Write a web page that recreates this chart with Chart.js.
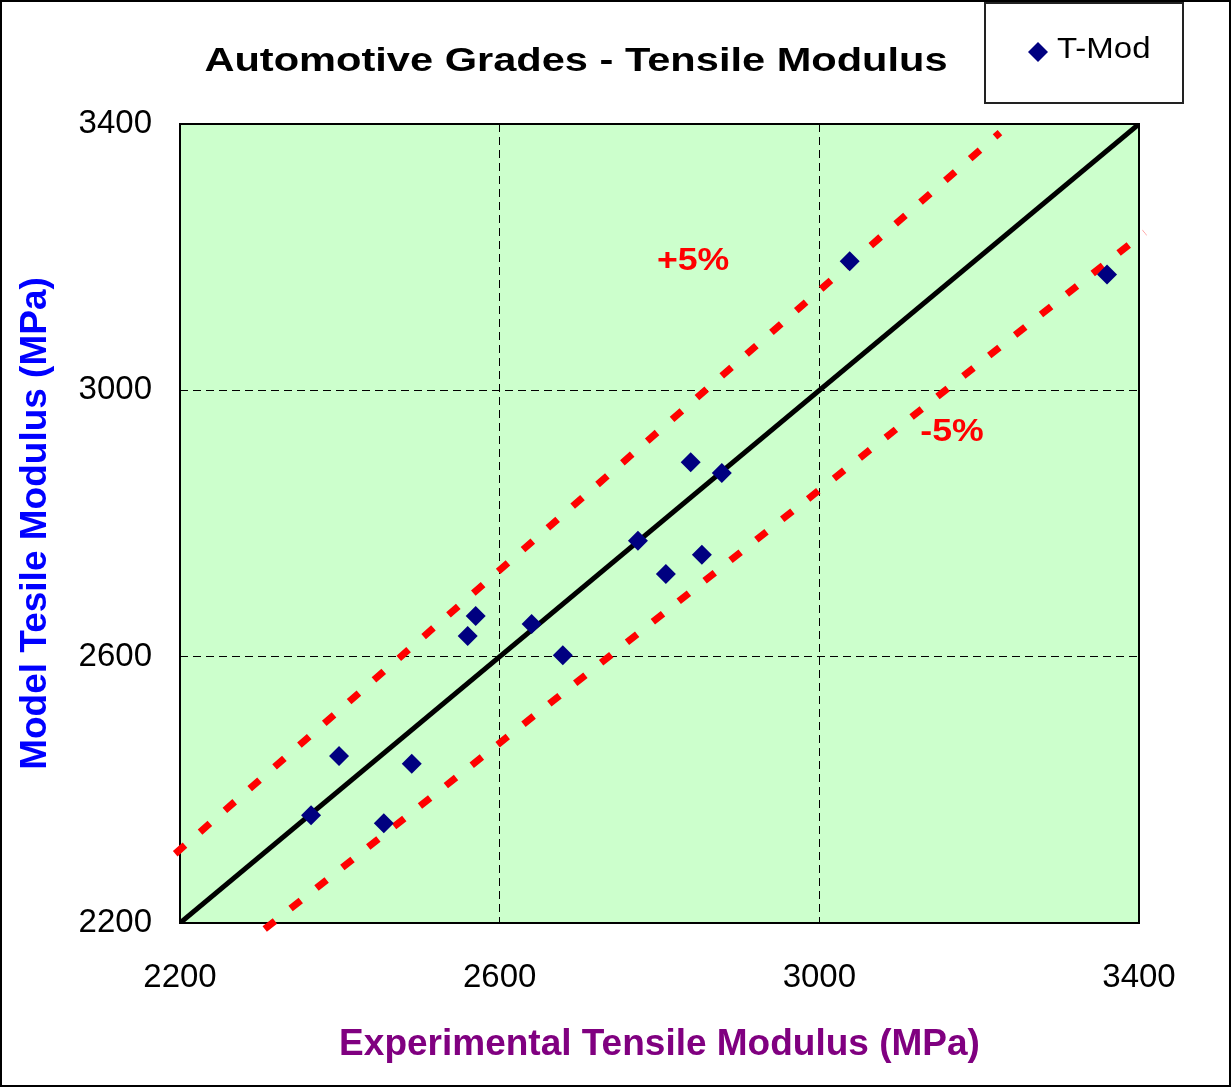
<!DOCTYPE html>
<html>
<head>
<meta charset="utf-8">
<script src="https://cdn.jsdelivr.net/npm/chart.js@4.4.0/dist/chart.umd.min.js"></script>
<style>
    body { margin: 0; background: #fff; }
    #wrap { width: 1231px; height: 1087px; position: relative; }
</style>
</head>
<body>
<div id="wrap"><canvas id="tmodChart" width="1231" height="1087"></canvas></div>
<script>
// Automotive grades - experimental vs model tensile modulus (MPa)
const expModulus   = [2364, 2399, 2455, 2490, 2560, 2570, 2640, 2679, 2773, 2808, 2839, 2853, 2878, 3038, 3360];
const modelModulus = [2362, 2451, 2350, 2439, 2631, 2661, 2649, 2602, 2774, 2724, 2892, 2753, 2876, 3194, 3174];

// reference lines (end points)
const parityX = [2200, 3400];
const parityY = [2200, 3400];
const plus5X  = [2194, 3226];
const plus5Y  = [2304, 3387];
const minus5X = [2306, 3407];
const minus5Y = [2191, 3237];

const tickValues = [2200, 2600, 3000, 3400];

const toPoints = (xs, ys) => xs.map((x, i) => ({ x: x, y: ys[i] }));

const FONT = 'Arial, "Liberation Sans", sans-serif';

// text in the original is a bit wider than plain Arial, so stretch it
function wideText(ctx, text, x, y, sx) {
    ctx.save();
    ctx.translate(x, y);
    ctx.scale(sx, 1);
    ctx.fillText(text, 0, 0);
    ctx.restore();
}

const chartDecor = {
    id: 'chartDecor',
    beforeDraw(chart) {
        const { ctx, chartArea: a } = chart;
        ctx.save();
        ctx.fillStyle = '#fff';
        ctx.fillRect(0, 0, chart.width, chart.height);
        ctx.fillStyle = '#ccffcc';
        ctx.fillRect(a.left, a.top, a.right - a.left, a.bottom - a.top);
        // outer border
        ctx.strokeStyle = '#000';
        ctx.lineWidth = 2;
        ctx.strokeRect(1, 1, chart.width - 2, chart.height - 2);
        ctx.restore();
    },
    beforeDatasetsDraw(chart) {
        const { ctx, chartArea: a } = chart;
        ctx.save();
        ctx.strokeStyle = '#000';
        ctx.lineWidth = 2;
        ctx.strokeRect(a.left, a.top, a.right - a.left, a.bottom - a.top);
        ctx.restore();
    },
    afterDraw(chart) {
        const { ctx } = chart;
        const xs = chart.scales.x, ys = chart.scales.y;
        ctx.save();
        ctx.textAlign = 'center';
        ctx.textBaseline = 'middle';

        // title
        ctx.fillStyle = '#000';
        ctx.font = 'bold 33px ' + FONT;
        wideText(ctx, 'Automotive Grades - Tensile Modulus', 576, 62, 1.26);

        // +5% / -5% labels
        ctx.fillStyle = '#ff0000';
        ctx.font = 'bold 31px ' + FONT;
        wideText(ctx, '+5%', xs.getPixelForValue(2842), ys.getPixelForValue(3193), 1.15);
        wideText(ctx, '-5%', xs.getPixelForValue(3166), ys.getPixelForValue(2937), 1.15);

        // legend box
        ctx.fillStyle = '#fff';
        ctx.fillRect(985, 3, 198, 100);
        ctx.strokeStyle = '#222';
        ctx.lineWidth = 2;
        ctx.strokeRect(985, 3, 198, 100);
        ctx.fillStyle = '#000080';
        ctx.beginPath();
        ctx.moveTo(1038, 42);
        ctx.lineTo(1048, 52);
        ctx.lineTo(1038, 62);
        ctx.lineTo(1028, 52);
        ctx.closePath();
        ctx.fill();
        ctx.fillStyle = '#000';
        ctx.font = '30px ' + FONT;
        ctx.textAlign = 'left';
        wideText(ctx, 'T-Mod', 1057, 50, 1.1);
        ctx.restore();
    }
};

new Chart(document.getElementById('tmodChart').getContext('2d'), {
    type: 'scatter',
    data: {
        datasets: [{
            label: 'T-Mod',
            data: toPoints(expModulus, modelModulus),
            pointStyle: 'rectRot',
            pointRadius: 10,
            pointHoverRadius: 10,
            backgroundColor: '#000080',
            borderColor: '#000080',
            borderWidth: 0,
            order: 0
        }, {
            label: 'parity',
            type: 'line',
            data: toPoints(parityX, parityY),
            borderColor: '#000',
            borderWidth: 5,
            pointRadius: 0,
            order: 1
        }, {
            label: '+5%',
            type: 'line',
            data: toPoints(plus5X, plus5Y),
            borderColor: '#ff0000',
            borderWidth: 7,
            borderDash: [13, 20],
            pointRadius: 0,
            clip: false,
            order: 2
        }, {
            label: '-5%',
            type: 'line',
            data: toPoints(minus5X, minus5Y),
            borderColor: '#ff0000',
            borderWidth: 7,
            borderDash: [13, 20],
            pointRadius: 0,
            clip: false,
            order: 2
        }]
    },
    options: {
        responsive: false,
        animation: false,
        layout: {
            padding: { left: 0, right: 92, top: 124, bottom: 10 }
        },
        plugins: {
            legend: { display: false },
            tooltip: { enabled: false }
        },
        scales: {
            x: {
                type: 'linear',
                min: 2200,
                max: 3400,
                afterBuildTicks: (scale) => { scale.ticks = tickValues.map(v => ({ value: v })); },
                afterFit: (scale) => { scale.height = 154; },
                border: { display: false, dash: [8, 5] },
                grid: {
                    drawTicks: false,
                    lineWidth: 1,
                    color: (c) => (c.tick && (c.tick.value === 2200 || c.tick.value === 3400)) ? 'rgba(0,0,0,0)' : '#000'
                },
                ticks: {
                    color: '#000',
                    padding: 35,
                    font: { family: FONT, size: 33 },
                    callback: (v) => String(v)
                },
                title: {
                    display: true,
                    text: 'Experimental Tensile Modulus (MPa)',
                    color: '#800080',
                    font: { family: FONT, size: 37, weight: 'bold' },
                    padding: { top: 0, bottom: 10 }
                }
            },
            y: {
                type: 'linear',
                min: 2200,
                max: 3400,
                afterBuildTicks: (scale) => { scale.ticks = tickValues.map(v => ({ value: v })); },
                afterFit: (scale) => { scale.width = 180; },
                border: { display: false, dash: [8, 5] },
                grid: {
                    drawTicks: false,
                    lineWidth: 1,
                    color: (c) => (c.tick && (c.tick.value === 2200 || c.tick.value === 3400)) ? 'rgba(0,0,0,0)' : '#000'
                },
                ticks: {
                    color: '#000',
                    padding: 28,
                    font: { family: FONT, size: 33 },
                    callback: (v) => String(v)
                },
                title: {
                    display: true,
                    text: 'Model Tesile Modulus (MPa)',
                    color: '#0000ff',
                    font: { family: FONT, size: 37, weight: 'bold' },
                    padding: { top: 14, bottom: 0 }
                }
            }
        }
    },
    plugins: [chartDecor]
});
</script>
</body>
</html>
